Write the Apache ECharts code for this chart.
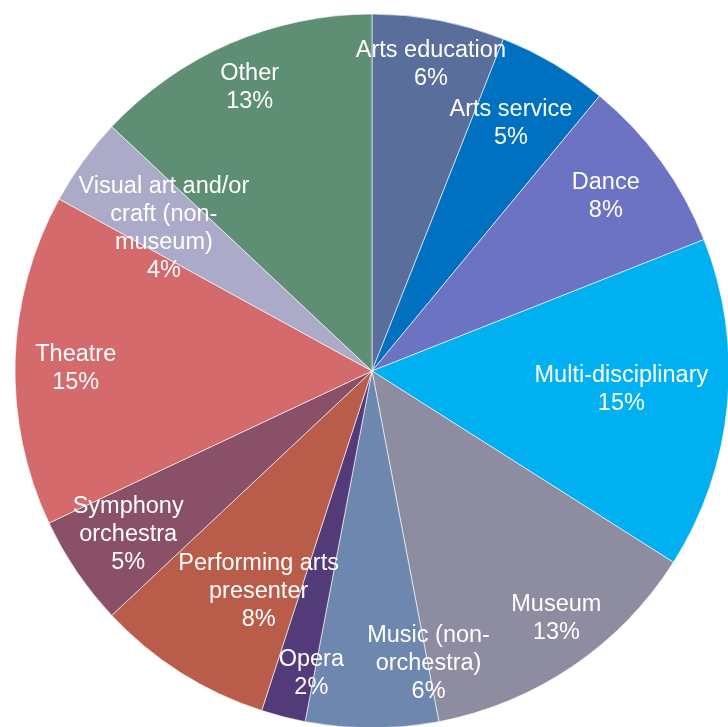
<!DOCTYPE html>
<html>
<head>
<meta charset="utf-8">
<script src="https://cdn.jsdelivr.net/npm/echarts@6/dist/echarts.min.js"></script>
<style>
  html, body { margin: 0; padding: 0; background: #ffffff; }
  #chart { width: 728px; height: 727px; }
</style>
</head>
<body>
<div id="chart"></div>
<script>
// Share of organisations by discipline (percent)
const categories = [
  'Arts education', 'Arts service', 'Dance', 'Multi-disciplinary', 'Museum',
  'Music (non-\norchestra)', 'Opera', 'Performing arts\npresenter',
  'Symphony\norchestra', 'Theatre', 'Visual art and/or\ncraft (non-\nmuseum)', 'Other'
];
const shares = [6, 5, 8, 15, 13, 6, 2, 8, 5, 15, 4, 13];
const colors = [
  '#596E9B', '#0070C0', '#6C73C3', '#00B0F0', '#8D8CA1', '#6E87AF',
  '#533B79', '#B95C4A', '#895067', '#D56A6C', '#ABAAC9', '#5E8F74'
];

// label placement: fraction of radius, and angular nudge in degrees
const labelRadius = [0.88, 0.80, 0.82, 0.70, 0.86, 0.83, 0.86, 0.69, 0.82, 0.83, 0.71, 0.87];
const labelNudge  = [0, -1.5, -1, -1.7, -2.7, -11, -3, -5, 0.6, -1, -1.2, 0.2];

const CX = 372, CY = 371, R = 357;
const total = shares.reduce((a, b) => a + b, 0);
const midAngles = [];
let acc = 0;
shares.forEach(v => { midAngles.push((acc + v / 2) / total * 360); acc += v; });

const chart = echarts.init(document.getElementById('chart'), null, { renderer: 'canvas' });
chart.setOption({
  animation: false,
  color: colors,
  series: [{
    type: 'pie',
    center: [CX, CY],
    radius: [0, R],
    startAngle: 90,
    clockwise: true,
    avoidLabelOverlap: false,
    itemStyle: { borderColor: '#ffffff', borderWidth: 0.6 },
    label: {
      show: true,
      position: 'inside',
      color: '#ffffff',
      fontFamily: 'Liberation Sans, Arial, sans-serif',
      fontSize: 23.5,
      lineHeight: 28,
      align: 'center',
      formatter: p => p.name + '\n' + Math.round(p.percent) + '%'
    },
    labelLine: { show: false },
    labelLayout: params => {
      const i = params.dataIndex;
      const a = (midAngles[i] + labelNudge[i]) * Math.PI / 180;
      const r = labelRadius[i] * R;
      return {
        x: CX + r * Math.sin(a),
        y: CY - r * Math.cos(a) + 2,
        align: 'center',
        verticalAlign: 'middle'
      };
    },
    data: categories.map((name, i) => ({ name: name, value: shares[i] }))
  }]
});
</script>
</body>
</html>
